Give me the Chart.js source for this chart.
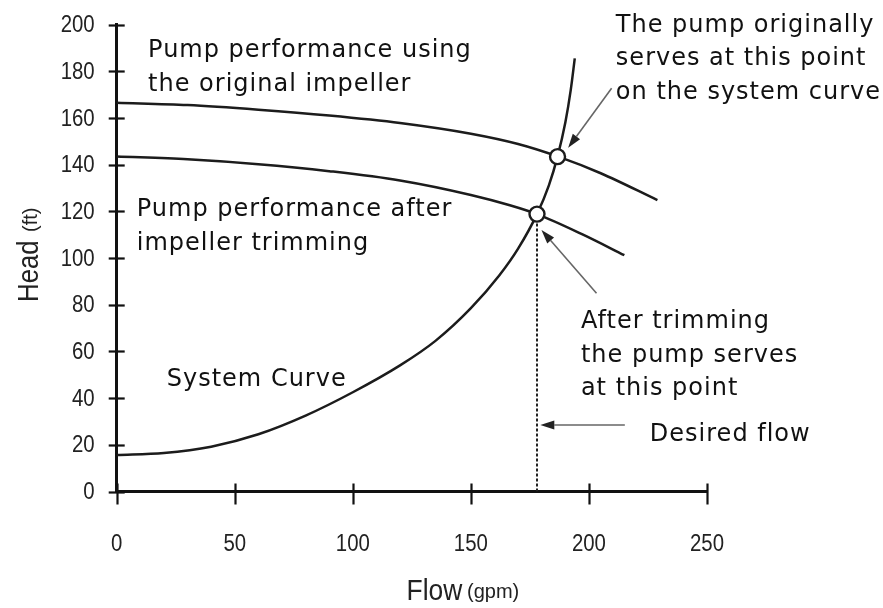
<!DOCTYPE html>
<html>
<head>
<meta charset="utf-8">
<script src="https://cdn.jsdelivr.net/npm/chart.js@4.4.1/dist/chart.umd.min.js"></script>
<style>
  html, body { margin: 0; padding: 0; background: #fff; }
  #wrap { width: 883px; height: 608px; position: relative; }
</style>
</head>
<body>
<div id="wrap"><canvas id="chart"></canvas></div>
<script>
// tick values
const flowTicks = [0, 50, 100, 150, 200, 250];
const headTicks = [0, 20, 40, 60, 80, 100, 120, 140, 160, 180, 200];

// pump curve, original impeller (flow gpm, head ft)
const originalFlow = [0, 30, 60, 90, 120, 150, 170, 187, 205, 229];
const originalHead = [166.5, 165.5, 163.5, 161, 157.8, 153.2, 148.8, 143.4, 136.3, 124.8];

// pump curve after impeller trimming
const trimmedFlow = [0, 30, 60, 90, 120, 150, 166.5, 178, 197.5, 215];
const trimmedHead = [143.5, 142.3, 140.2, 137.2, 133.2, 127, 122.6, 118.8, 110, 101.2];

// system curve
const systemFlow = [0, 20, 40, 60, 80, 100, 120, 135, 150, 162, 170, 178, 183, 186.7, 190, 192.3, 194];
const systemHead = [15.6, 16.5, 19.2, 24.5, 32.5, 42.5, 54, 64.5, 78.5, 92.5, 104, 118.8, 131, 143.4, 158, 172, 185.5];

// operating points (original, trimmed)
const pointFlow = [186.7, 178];
const pointHead = [143.4, 118.8];

// desired flow marker
const desiredFlow = 178;
const desiredHeadTop = 116;

const toXY = (xs, ys) => xs.map((x, i) => ({ x: x, y: ys[i] }));

const LINE = "#1c1c1c";
const TEXT_FONT = "'DejaVu Sans', sans-serif";
const AXIS_FONT = "'Liberation Sans', Arial, sans-serif";

// annotation labels and arrows, placed in data units
const notes = [
  { x: 13.3, y: 186.1, lines: ["Pump performance using", "the original impeller"] },
  { x: 8.5, y: 118.0, lines: ["Pump performance after", "impeller trimming"] },
  { x: 21.2, y: 45.2, lines: ["System Curve"] },
  { x: 211.4, y: 197.0, lines: ["The pump originally", "serves at this point", "on the system curve"] },
  { x: 196.6, y: 70.1, lines: ["After trimming", "the pump serves", "at this point"] },
  { x: 225.8, y: 21.8, lines: ["Desired flow"] },
];
const arrows = [
  { from: [209.6, 172.7], to: [191.2, 147.2] },
  { from: [203.2, 84.9], to: [179.9, 112.0] },
  { from: [215.2, 28.5], to: [179.4, 28.5] },
];

// draw text squeezed horizontally (condensed look)
function narrowText(ctx, text, px, py, squeeze, align) {
  ctx.save();
  ctx.translate(px, py);
  ctx.scale(squeeze, 1);
  ctx.textAlign = align;
  ctx.fillText(text, 0, 0);
  ctx.restore();
}

const decor = {
  id: "decor",
  afterDatasetsDraw(chart) {
    const { ctx, chartArea: a, scales: { x, y } } = chart;
    ctx.save();

    // tick marks crossing the axes
    ctx.strokeStyle = "#111";
    ctx.lineWidth = 2.2;
    headTicks.forEach((v) => {
      const py = Math.round(y.getPixelForValue(v)) + 0.5;
      ctx.beginPath();
      ctx.moveTo(a.left - 8, py);
      ctx.lineTo(a.left + 8, py);
      ctx.stroke();
    });
    flowTicks.forEach((v) => {
      const px = Math.round(x.getPixelForValue(v)) + 0.5;
      ctx.beginPath();
      ctx.moveTo(px, a.bottom - 8);
      ctx.lineTo(px, a.bottom + 13);
      ctx.stroke();
    });

    // tick labels
    ctx.fillStyle = "#222";
    ctx.font = "24px " + AXIS_FONT;
    ctx.textBaseline = "middle";
    headTicks.forEach((v) => {
      narrowText(ctx, String(v), a.left - 22, y.getPixelForValue(v) + 1, 0.85, "right");
    });
    flowTicks.forEach((v) => {
      narrowText(ctx, String(v), x.getPixelForValue(v), a.bottom + 53, 0.85, "center");
    });

    // arrows
    arrows.forEach((ar) => {
      const x1 = x.getPixelForValue(ar.from[0]), y1 = y.getPixelForValue(ar.from[1]);
      const x2 = x.getPixelForValue(ar.to[0]), y2 = y.getPixelForValue(ar.to[1]);
      const ang = Math.atan2(y2 - y1, x2 - x1);
      const hl = 14, hw = 4.5;
      ctx.strokeStyle = "#666";
      ctx.lineWidth = 1.6;
      ctx.beginPath();
      ctx.moveTo(x1, y1);
      ctx.lineTo(x2 - hl * Math.cos(ang), y2 - hl * Math.sin(ang));
      ctx.stroke();
      ctx.fillStyle = "#222";
      ctx.beginPath();
      ctx.moveTo(x2, y2);
      ctx.lineTo(x2 - hl * Math.cos(ang) + hw * Math.sin(ang), y2 - hl * Math.sin(ang) - hw * Math.cos(ang));
      ctx.lineTo(x2 - hl * Math.cos(ang) - hw * Math.sin(ang), y2 - hl * Math.sin(ang) + hw * Math.cos(ang));
      ctx.closePath();
      ctx.fill();
    });

    // annotation text
    ctx.fillStyle = "#111";
    ctx.font = "24px " + TEXT_FONT;
    ctx.letterSpacing = "1px";
    ctx.textAlign = "left";
    ctx.textBaseline = "alphabetic";
    notes.forEach((n) => {
      const px = x.getPixelForValue(n.x), py = y.getPixelForValue(n.y);
      n.lines.forEach((t, i) => ctx.fillText(t, px, py + i * 33.7));
    });
    ctx.letterSpacing = "0px";

    // axis titles
    ctx.fillStyle = "#222";
    ctx.font = "30px " + AXIS_FONT;
    narrowText(ctx, "Flow", 406.5, 600, 0.88, "left");
    ctx.font = "20px " + AXIS_FONT;
    ctx.textAlign = "left";
    ctx.fillText("(gpm)", 467, 598);

    ctx.translate(37.5, 302);
    ctx.rotate(-Math.PI / 2);
    ctx.font = "30px " + AXIS_FONT;
    narrowText(ctx, "Head", 0, 0, 0.86, "left");
    ctx.font = "20px " + AXIS_FONT;
    ctx.textAlign = "left";
    ctx.fillText("(ft)", 70, -1);

    ctx.restore();
  },
};

new Chart(document.getElementById("chart").getContext("2d"), {
  type: "scatter",
  data: {
    datasets: [
      {
        label: "Operating points",
        data: toXY(pointFlow, pointHead),
        showLine: false,
        pointRadius: 7.5,
        pointBorderWidth: 2.4,
        pointBackgroundColor: "#fff",
        pointBorderColor: LINE,
        order: 0,
      },
      {
        label: "Original impeller",
        data: toXY(originalFlow, originalHead),
        showLine: true,
        borderColor: LINE,
        borderWidth: 2.5,
        pointRadius: 0,
        cubicInterpolationMode: "monotone",
        order: 1,
      },
      {
        label: "Trimmed impeller",
        data: toXY(trimmedFlow, trimmedHead),
        showLine: true,
        borderColor: LINE,
        borderWidth: 2.5,
        pointRadius: 0,
        cubicInterpolationMode: "monotone",
        order: 1,
      },
      {
        label: "System curve",
        data: toXY(systemFlow, systemHead),
        showLine: true,
        borderColor: LINE,
        borderWidth: 2.5,
        pointRadius: 0,
        cubicInterpolationMode: "monotone",
        order: 1,
      },
      {
        label: "Desired flow",
        data: [{ x: desiredFlow, y: 0 }, { x: desiredFlow, y: desiredHeadTop }],
        showLine: true,
        borderColor: "#222",
        borderWidth: 2,
        borderDash: [3, 2],
        pointRadius: 0,
        order: 2,
      },
    ],
  },
  options: {
    responsive: true,
    maintainAspectRatio: false,
    animation: false,
    events: [],
    layout: { padding: { left: 0, right: 176, top: 24.5, bottom: 0 } },
    plugins: { legend: { display: false }, tooltip: { enabled: false } },
    scales: {
      x: {
        type: "linear",
        min: 0,
        max: 250,
        afterFit: (s) => { s.height = 116.5; },
        grid: { display: false, drawTicks: false },
        border: { display: true, color: "#111", width: 3 },
        ticks: { display: false },
      },
      y: {
        type: "linear",
        min: 0,
        max: 200,
        afterFit: (s) => { s.width = 116.7; },
        grid: { display: false, drawTicks: false },
        border: { display: true, color: "#111", width: 3 },
        ticks: { display: false },
      },
    },
  },
  plugins: [decor],
});
</script>
</body>
</html>
